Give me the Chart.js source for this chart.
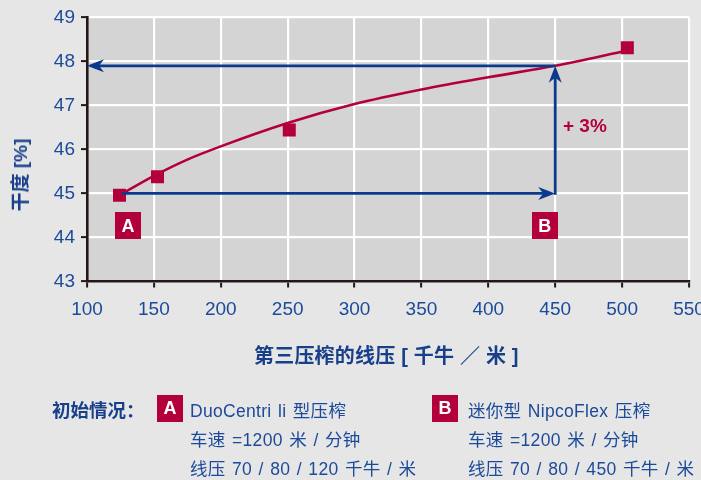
<!DOCTYPE html>
<html><head><meta charset="utf-8">
<script src="https://cdn.jsdelivr.net/npm/chart.js@4"></script>
<style>
html,body{margin:0;padding:0;background:#e6e6e6;}
#wrap{position:relative;width:701px;height:480px;overflow:hidden;background:#e6e6e6;}
#c{position:absolute;left:0;top:0;}
.t{position:absolute;white-space:nowrap;color:#1c4a9a;font-family:"Liberation Sans","Noto Sans CJK SC",sans-serif;font-size:17.5px;line-height:20px;letter-spacing:0.3px;word-spacing:1.3px;}
.b{font-weight:bold;color:#173f8a;font-size:18.5px;letter-spacing:0;word-spacing:0;}
.box{position:absolute;width:26px;height:27px;background:#b4003a;color:#fff;font:bold 18px "Liberation Sans",sans-serif;display:flex;align-items:center;justify-content:center;}
</style></head>
<body>
<div id="wrap">
<canvas id="c" width="701" height="480"></canvas>
<div class="t b" id="ytitle" style="left:21px;top:175px;font-size:19px;transform:translate(-50%,-50%) rotate(-90deg);">干度 [%]</div>
<div class="t b" style="left:254px;top:346px;font-size:20px;letter-spacing:0.2px;">第三压榨的线压 [ 千牛 ／ 米 ]</div>
<div class="t b" style="left:52px;top:401px;">初始情况：</div>
<div class="box" style="left:157px;top:395px;">A</div>
<div class="t" style="left:190px;top:401px;">DuoCentri li 型压榨</div>
<div class="t" style="left:190px;top:430px;">车速 =1200 米 / 分钟</div>
<div class="t" style="left:190px;top:459px;">线压 70 / 80 / 120 千牛 / 米</div>
<div class="box" style="left:432px;top:395px;">B</div>
<div class="t" style="left:468px;top:401px;">迷你型 NipcoFlex 压榨</div>
<div class="t" style="left:468px;top:430px;">车速 =1200 米 / 分钟</div>
<div class="t" style="left:468px;top:459px;">线压 70 / 80 / 450 千牛 / 米</div>
</div>
<script>
// measured points (squares)
const pressX = [124.3, 152.7, 251.2, 503.9];
const dryY   = [44.96, 45.38, 46.44, 48.31];
// fitted curve
const curveX = [124.3, 150, 175, 200, 250, 300, 350, 400, 450, 503.9];
const curveY = [44.96, 45.40, 45.77, 46.07, 46.60, 47.03, 47.36, 47.64, 47.90, 48.25];
// arrows
const arrowFromX = [126, 450, 450];
const arrowFromY = [45.0, 44.97, 47.9];
const arrowToX   = [450, 450, 100];
const arrowToY   = [45.0, 47.9, 47.9];
// in-plot tags
const tagText = ['A', 'B'];
const tagX = [130.7, 442.2];
const tagY = [44.27, 44.27];
const noteText = '+ 3%';
const noteX = 455.8, noteY = 46.53;
// axes
const xMin = 100, xMax = 550, xStep = 50;
const yMin = 43, yMax = 49, yStep = 1;

const RED = '#b4003a', BLUE = '#0b3a8d', TXT = '#1c4a9a', AXIS = '#231815';
const FONT = '"Liberation Sans", sans-serif';

const overlay = {
  id: 'overlay',
  beforeDraw(chart) {
    const { ctx, chartArea: a } = chart;
    ctx.save();
    ctx.fillStyle = '#d4d4d4';
    ctx.fillRect(a.left, a.top, a.right - a.left, a.bottom - a.top);
    ctx.restore();
  },
  afterDatasetsDraw(chart) {
    const ctx = chart.ctx, xs = chart.scales.x, ys = chart.scales.y;
    ctx.save();
    for (let i = 0; i < arrowFromX.length; i++) {
      const x1 = xs.getPixelForValue(arrowFromX[i]), y1 = ys.getPixelForValue(arrowFromY[i]);
      const x2 = xs.getPixelForValue(arrowToX[i]), y2 = ys.getPixelForValue(arrowToY[i]);
      const ang = Math.atan2(y2 - y1, x2 - x1);
      const L = 17, W = 6.5, N = 12;
      ctx.strokeStyle = BLUE; ctx.lineWidth = 2.8; ctx.lineCap = 'butt';
      ctx.beginPath();
      ctx.moveTo(x1, y1);
      ctx.lineTo(x2 - Math.cos(ang) * N, y2 - Math.sin(ang) * N);
      ctx.stroke();
      ctx.save();
      ctx.translate(x2, y2); ctx.rotate(ang);
      ctx.fillStyle = BLUE;
      ctx.beginPath();
      ctx.moveTo(0, 0); ctx.lineTo(-L, -W); ctx.lineTo(-N, 0); ctx.lineTo(-L, W); ctx.closePath();
      ctx.fill();
      ctx.restore();
    }
    ctx.font = 'bold 18px ' + FONT;
    ctx.textAlign = 'center'; ctx.textBaseline = 'middle';
    for (let i = 0; i < tagText.length; i++) {
      const cx = xs.getPixelForValue(tagX[i]), cy = ys.getPixelForValue(tagY[i]);
      ctx.fillStyle = RED;
      ctx.fillRect(Math.round(cx - 13), Math.round(cy - 13.5), 26, 27);
      ctx.fillStyle = '#fff';
      ctx.fillText(tagText[i], cx, cy + 1);
    }
    ctx.font = 'bold 19px ' + FONT;
    ctx.textAlign = 'left';
    ctx.fillStyle = RED;
    ctx.fillText(noteText, xs.getPixelForValue(noteX), ys.getPixelForValue(noteY) + 1);
    ctx.restore();
  }
};

new Chart(document.getElementById('c'), {
  data: {
    datasets: [
      {
        type: 'scatter',
        data: pressX.map((x, i) => ({ x, y: dryY[i] })),
        pointStyle: 'rect', pointRadius: 9.2, pointHoverRadius: 9.2,
        backgroundColor: RED, borderWidth: 0, showLine: false, order: 2
      },
      {
        type: 'line',
        data: curveX.map((x, i) => ({ x, y: curveY[i] })),
        borderColor: RED, borderWidth: 2.6, pointRadius: 0, fill: false,
        cubicInterpolationMode: 'monotone', order: 1
      }
    ]
  },
  options: {
    responsive: false, animation: false, devicePixelRatio: 1,
    layout: { padding: { left: 0, top: 17, right: 12, bottom: 158.5 } },
    plugins: { legend: { display: false }, tooltip: { enabled: false } },
    scales: {
      x: {
        type: 'linear', min: xMin, max: xMax,
        ticks: { stepSize: xStep, color: TXT, font: { family: FONT, size: 19 }, padding: 11, maxRotation: 0 },
        grid: { color: '#ffffff', lineWidth: 2.2, tickColor: AXIS, tickWidth: 2, tickLength: 6 },
        border: { color: AXIS, width: 2.6 },
        afterFit(s) { s.height = 40; s.paddingLeft = 0; s.paddingRight = 0; }
      },
      y: {
        type: 'linear', min: yMin, max: yMax,
        ticks: { stepSize: yStep, color: TXT, font: { family: FONT, size: 19 }, padding: 6 },
        grid: { color: '#ffffff', lineWidth: 2.2, tickColor: AXIS, tickWidth: 2, tickLength: 6 },
        border: { color: AXIS, width: 2.6 },
        afterFit(s) { s.width = 87; }
      }
    }
  },
  plugins: [overlay]
});
</script>
</body></html>
